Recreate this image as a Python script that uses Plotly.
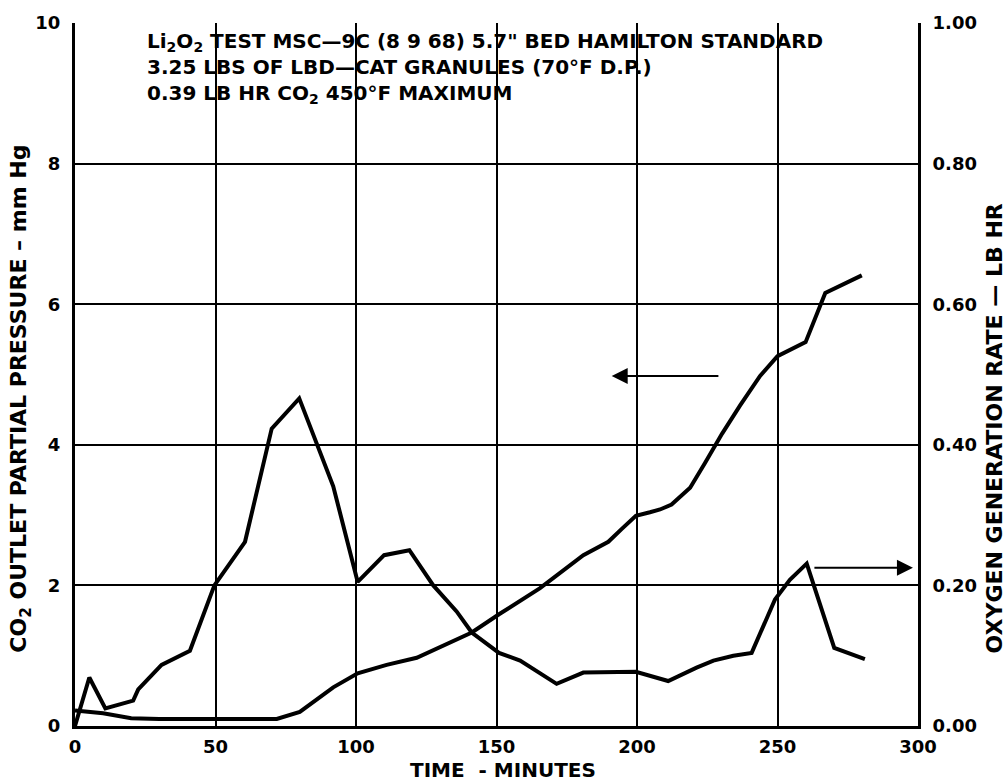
import plotly.graph_objects as go

# ---- data ----
co2_time = [0, 10, 20, 30, 50, 71.8, 80, 91.9, 100.6, 110.9, 121.6, 131, 141.2, 150.9,
            165.5, 180.9, 189.8, 194.5, 199.6, 204.6, 208.2, 212.3, 218.9, 224.2, 230.3,
            236.7, 243.8, 250, 260, 267, 280]
co2_pressure = [0.22, 0.18, 0.11, 0.10, 0.10, 0.10, 0.20, 0.55, 0.75, 0.87, 0.97, 1.14, 1.33,
                1.59, 1.96, 2.43, 2.62, 2.80, 2.99, 3.04, 3.08, 3.15, 3.39, 3.74, 4.16,
                4.56, 4.98, 5.26, 5.46, 6.16, 6.41]

o2_time = [0, 5.1, 10.8, 20.7, 22.5, 30.8, 40.9, 49.6, 60.5, 70, 79.8, 91.9, 100.6, 110,
           119, 127.5, 135.8, 141.2, 150.9, 158.4, 171.4, 180.9, 199.6, 211.1, 221.2, 227.2,
           234.3, 240.8, 249.1, 254.4, 260.4, 270.2, 281.1]
o2_rate = [0.000, 0.069, 0.025, 0.036, 0.052, 0.087, 0.107, 0.200, 0.262, 0.423, 0.466,
           0.341, 0.205, 0.243, 0.250, 0.200, 0.163, 0.133, 0.104, 0.093, 0.060, 0.076,
           0.077, 0.064, 0.083, 0.093, 0.100, 0.104, 0.180, 0.208, 0.231, 0.111, 0.095]

x_ticks = [0, 50, 100, 150, 200, 250, 300]
left_ticks = [0, 2, 4, 6, 8, 10]
right_ticks = [0.0, 0.2, 0.4, 0.6, 0.8, 1.0]

title_lines = [
    "Li<sub>2</sub>O<sub>2</sub> TEST MSC\u20149C (8 9 68) 5.7\" BED HAMILTON STANDARD",
    "3.25 LBS OF LBD\u2014CAT GRANULES (70\u00b0F D.P.)",
    "0.39 LB HR CO<sub>2</sub> 450\u00b0F MAXIMUM",
]

FONT = "DejaVu Sans"
W, H = 1008, 783
L, R, T, B = 75, 90, 15, 57
pw, ph = W - L - R, H - T - B


def px_to_paper_y(py):
    return (H - B - py) / ph


def px_to_paper_x(px):
    return (px - L) / pw


fig = go.Figure()
fig.add_trace(go.Scatter(x=co2_time, y=co2_pressure, mode="lines",
                         line=dict(color="black", width=4), yaxis="y",
                         showlegend=False, hoverinfo="skip"))
fig.add_trace(go.Scatter(x=o2_time, y=o2_rate, mode="lines",
                         line=dict(color="black", width=4), yaxis="y2",
                         showlegend=False, hoverinfo="skip"))

annotations = []
annotations.append(dict(text="<br>".join(title_lines), xref="paper", yref="paper",
                        x=px_to_paper_x(145), y=px_to_paper_y(61),
                        xanchor="left", yanchor="middle", align="left", showarrow=False,
                        font=dict(family=FONT, size=20, color="black", weight="bold")))

# axis titles
annotations.append(dict(text="CO<sub>2</sub> OUTLET PARTIAL PRESSURE \u2013 mm Hg",
                        xref="paper", yref="paper", x=px_to_paper_x(21),
                        y=px_to_paper_y(395), xanchor="center", yanchor="middle",
                        textangle=-90, showarrow=False,
                        font=dict(family=FONT, size=22, color="black", weight="bold")))
annotations.append(dict(text="OXYGEN GENERATION RATE \u2014 LB HR",
                        xref="paper", yref="paper", x=px_to_paper_x(994),
                        y=px_to_paper_y(425), xanchor="center", yanchor="middle",
                        textangle=-90, showarrow=False,
                        font=dict(family=FONT, size=22, color="black", weight="bold")))
annotations.append(dict(text="TIME  - MINUTES", xref="paper", yref="paper",
                        x=px_to_paper_x(503), y=px_to_paper_y(770),
                        xanchor="center", yanchor="middle", showarrow=False,
                        font=dict(family=FONT, size=20, color="black", weight="bold")))

# arrows
annotations.append(dict(x=191, y=4.98, ax=229.5, ay=4.98, xref="x", yref="y",
                        axref="x", ayref="y", text="", showarrow=True, arrowhead=2,
                        arrowwidth=2, arrowsize=1.6, arrowcolor="black"))
annotations.append(dict(x=298.2, y=0.225, ax=262.6, ay=0.225, xref="x", yref="y2",
                        axref="x", ayref="y2", text="", showarrow=True, arrowhead=2,
                        arrowwidth=2, arrowsize=1.6, arrowcolor="black"))

# white label box over the grid behind the heading text
shapes = [dict(type="rect", xref="x", yref="paper", x0=0.7, x1=299.3,
               y0=px_to_paper_y(99), y1=px_to_paper_y(21),
               fillcolor="white", line=dict(width=0), layer="between")]

tickfont = dict(family=FONT, size=18, color="black", weight="bold")

fig.update_layout(
    width=W, height=H,
    margin=dict(l=L, r=R, t=T, b=B, pad=0),
    paper_bgcolor="white", plot_bgcolor="white",
    font=dict(family=FONT, size=18, color="black"),
    xaxis=dict(range=[0, 300], tickvals=x_ticks, ticktext=[str(v) for v in x_ticks],
               showgrid=True, gridcolor="black", gridwidth=2,
               showline=True, linecolor="black", linewidth=3, mirror=False,
               ticks="", ticklabelstandoff=2, zeroline=False, tickfont=tickfont),
    yaxis=dict(range=[0, 10], tickvals=left_ticks, showgrid=True, gridcolor="black",
               gridwidth=2, showline=True, linecolor="black", linewidth=3,
               ticks="", ticklabelstandoff=8, zeroline=False, tickfont=tickfont),
    yaxis2=dict(range=[0, 1], tickvals=right_ticks, tickformat=".2f", overlaying="y",
                side="right", showgrid=False, showline=True, linecolor="black",
                linewidth=3, ticks="", ticklabelstandoff=8, zeroline=False,
                tickfont=tickfont),
    annotations=annotations,
    shapes=shapes,
)

fig.write_html("out.html")
